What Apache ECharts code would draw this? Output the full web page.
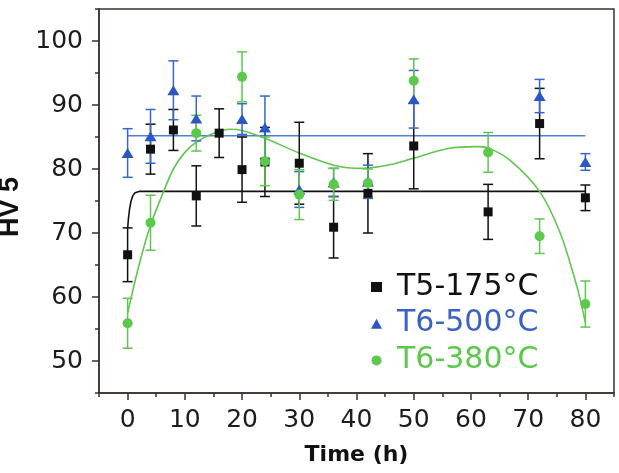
<!DOCTYPE html>
<html>
<head>
<meta charset="utf-8">
<script src="https://cdn.jsdelivr.net/npm/echarts@6/dist/echarts.min.js"></script>
<style>
  html, body { margin: 0; padding: 0; background: #fff; }
  #main { width: 619px; height: 473px; }
</style>
</head>
<body>
<div id="main"></div>
<script>
// T5-175°C (black squares)
var hours175 = [0, 4, 8, 12, 16, 20, 24, 30, 36, 42, 50, 63, 72, 80];
var hv175 = [66.6, 83.1, 86.1, 75.8, 85.6, 79.9, 81.1, 80.9, 70.9, 76.2, 83.6, 73.3, 87.1, 75.5];
var err175 = [4.2, 3.9, 3.2, 4.7, 3.8, 5.1, 5.4, 6.4, 4.8, 6.2, 6.7, 4.3, 5.5, 2.0];

// T6-500°C (blue triangles)
var hours500 = [0, 4, 8, 12, 20, 24, 30, 36, 42, 50, 72, 80];
var hv500 = [82.5, 85.1, 92.3, 87.9, 87.8, 86.5, 76.8, 77.9, 78.0, 90.9, 91.4, 81.1];
var err500 = [3.8, 4.2, 4.6, 3.5, 2.4, 4.9, 2.8, 2.2, 2.6, 4.5, 2.6, 1.3];

// T6-380°C (green circles)
var hours380 = [0, 4, 12, 20, 24, 30, 36, 42, 50, 63, 72, 80];
var hv380 = [55.9, 71.6, 85.6, 94.4, 81.2, 76.0, 77.6, 77.8, 93.8, 82.6, 69.5, 58.9];
var err380 = [3.9, 4.3, 2.8, 3.9, 3.8, 3.9, 2.5, 2.2, 3.4, 3.1, 2.7, 3.6];

// fitted curves
var fit175 = [[0, 70.7], [0.15, 72.3], [0.35, 73.8], [0.6, 75.0], [0.9, 75.8], [1.3, 76.3], [2, 76.5], [80, 76.5]];
var fit500 = [[0, 85.2], [80, 85.2]];
var fit380 = [[0, 57.5], [2, 65.0], [4, 71.2], [6.3, 76.5], [8, 80.0], [10, 82.6], [12, 84.2], [15, 85.6],
  [18, 86.2], [20, 86.0], [24, 84.8], [30, 82.5], [36, 80.6], [41, 80.1], [46, 80.7], [50, 81.7],
  [56, 83.2], [61, 83.5], [63, 83.3], [66.8, 81.4], [72, 76.5], [75.6, 70.0], [78.5, 61.7], [80, 56.0]];

// axis ticks
var xMajor = [0, 10, 20, 30, 40, 50, 60, 70, 80];
var xMinor = [-5, 5, 15, 25, 35, 45, 55, 65, 75, 85];
var yMajor = [50, 60, 70, 80, 90, 100];
var yMinor = [45, 55, 65, 75, 85, 95, 105];

var names = ['T5-175°C', 'T6-500°C', 'T6-380°C'];
var colBlack = '#111111', colBlue = '#2b57c2', colGreen = '#5cc84c';
var axisCol = '#3b2f2f';

function zip(xs, ys, es) {
  var out = [];
  for (var i = 0; i < xs.length; i++) {
    out.push(es ? [xs[i], ys[i], es[i]] : [xs[i], ys[i]]);
  }
  return out;
}

function errorBars(color) {
  return function (params, api) {
    var x = api.value(0), y = api.value(1), e = api.value(2);
    var hi = api.coord([x, y + e]);
    var lo = api.coord([x, y - e]);
    var w = 5;
    var style = { stroke: color, lineWidth: 1.5 };
    return {
      type: 'group',
      children: [
        { type: 'line', shape: { x1: hi[0], y1: hi[1], x2: lo[0], y2: lo[1] }, style: style },
        { type: 'line', shape: { x1: hi[0] - w, y1: hi[1], x2: hi[0] + w, y2: hi[1] }, style: style },
        { type: 'line', shape: { x1: lo[0] - w, y1: lo[1], x2: lo[0] + w, y2: lo[1] }, style: style }
      ]
    };
  };
}

var dom = document.getElementById('main');
var myChart = echarts.init(dom, null, { renderer: 'canvas' });

var minorAxisCommon = {
  axisLine: { show: false, onZero: false },
  axisLabel: { show: false },
  splitLine: { show: false }
};

var option = {
  animation: false,
  backgroundColor: '#fff',
  grid: {
    left: 99, right: 5, top: 9, bottom: 80,
    outerBoundsMode: 'none',
    containLabel: false,
    show: true, borderColor: axisCol, borderWidth: 1.5
  },
  legend: {
    orient: 'vertical',
    left: 366,
    top: 267,
    itemWidth: 11,
    itemHeight: 10,
    itemGap: 6.7,
    selectedMode: false,
    textStyle: { fontFamily: 'DejaVu Sans', fontSize: 30, padding: [0, 0, 0, 10] },
    data: [
      { name: names[0], icon: 'rect', textStyle: { color: colBlack } },
      { name: names[1], icon: 'triangle', textStyle: { color: '#3a62c0' } },
      { name: names[2], icon: 'circle', textStyle: { color: colGreen } }
    ]
  },
  xAxis: [
    {
      type: 'value', min: -5, max: 85,
      name: 'Time (h)', nameLocation: 'middle', nameGap: 51,
      nameTextStyle: { fontFamily: 'DejaVu Sans', fontWeight: 'bold', fontSize: 22, color: '#111' },
      axisLine: { show: true, onZero: false, lineStyle: { color: axisCol, width: 1.5 } },
      axisTick: { show: true, length: 7, customValues: xMajor, lineStyle: { color: axisCol, width: 1.5 } },
      axisLabel: { customValues: xMajor, margin: 15, fontFamily: 'DejaVu Sans', fontSize: 25, color: '#1c1c1c' },
      splitLine: { show: false }
    },
    Object.assign({
      type: 'value', min: -5, max: 85, position: 'bottom',
      axisTick: { show: true, length: 4, customValues: xMinor, lineStyle: { color: axisCol, width: 1.5 } }
    }, minorAxisCommon)
  ],
  yAxis: [
    {
      type: 'value', min: 45, max: 105,
      name: 'HV 5', nameLocation: 'middle', nameGap: 67,
      nameTextStyle: { fontFamily: 'Liberation Sans', fontWeight: 'bold', fontSize: 27, color: '#111', padding: [0, 12, 0, 0] },
      axisLine: { show: true, onZero: false, lineStyle: { color: axisCol, width: 1.5 } },
      axisTick: { show: true, length: 7, customValues: yMajor, lineStyle: { color: axisCol, width: 1.5 } },
      axisLabel: { customValues: yMajor, margin: 16, fontFamily: 'DejaVu Sans', fontSize: 25, color: '#1c1c1c' },
      splitLine: { show: false }
    },
    Object.assign({
      type: 'value', min: 45, max: 105, position: 'left',
      axisTick: { show: true, length: 4, customValues: yMinor, lineStyle: { color: axisCol, width: 1.5 } }
    }, minorAxisCommon)
  ],
  series: [
    {
      type: 'line', data: fit175, symbol: 'none', smooth: false,
      lineStyle: { color: colBlack, width: 1.6 }, z: 1, silent: true
    },
    {
      type: 'line', data: fit500, symbol: 'none',
      lineStyle: { color: '#4f7fd6', width: 1.6 }, z: 1, silent: true
    },
    {
      type: 'line', data: fit380, symbol: 'none', smooth: 0.3,
      lineStyle: { color: '#62c552', width: 1.6 }, z: 1, silent: true
    },
    {
      type: 'custom', renderItem: errorBars(colBlack),
      data: zip(hours175, hv175, err175), encode: { x: 0, y: 1 }, z: 2
    },
    {
      type: 'custom', renderItem: errorBars('#3766cc'),
      data: zip(hours500, hv500, err500), encode: { x: 0, y: 1 }, z: 2
    },
    {
      type: 'custom', renderItem: errorBars(colGreen),
      data: zip(hours380, hv380, err380), encode: { x: 0, y: 1 }, z: 2
    },
    {
      name: names[0], type: 'scatter', symbol: 'rect', symbolSize: 9,
      data: zip(hours175, hv175), itemStyle: { color: colBlack, opacity: 1 }, z: 3
    },
    {
      name: names[1], type: 'scatter', symbol: 'triangle', symbolSize: [12, 10],
      data: zip(hours500, hv500), itemStyle: { color: colBlue, opacity: 1 }, z: 3
    },
    {
      name: names[2], type: 'scatter', symbol: 'circle', symbolSize: 10,
      data: zip(hours380, hv380), itemStyle: { color: colGreen, opacity: 1 }, z: 3
    }
  ]
};

myChart.setOption(option);
</script>
</body>
</html>
